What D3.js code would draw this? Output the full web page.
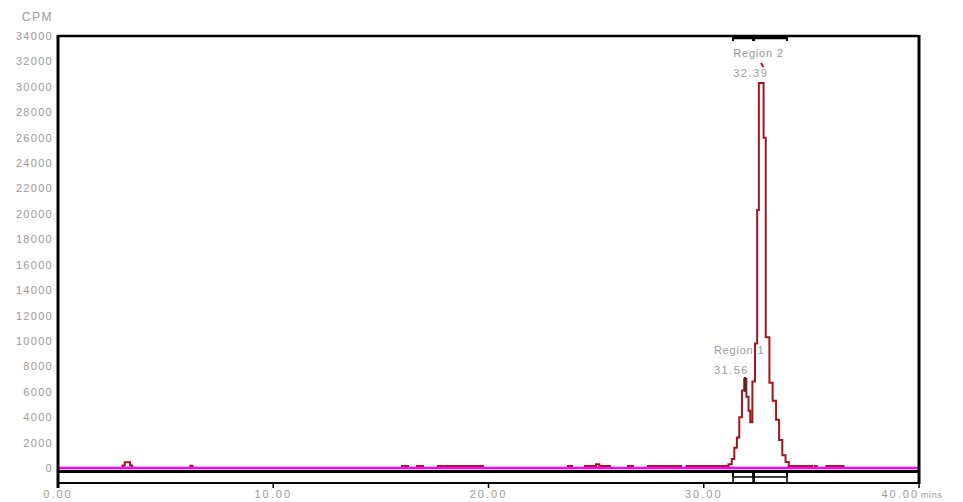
<!DOCTYPE html>
<html>
<head>
<meta charset="utf-8">
<script src="https://cdn.jsdelivr.net/npm/d3@7"></script>
<style>
  body { margin: 0; background: #fff; }
  svg text { font-family: "Liberation Sans", Arial, sans-serif; fill: #9a9a9a; }
</style>
</head>
<body>
<svg id="chart" width="963" height="502"></svg>
<script>
// chromatogram data: time (mins) and counts, drawn as a step trace
var times = [0, 3.0, 3.1, 3.35, 3.45, 6.15, 6.25,
  15.98, 16.26, 16.68, 16.96, 17.65, 17.85, 17.95, 19.74,
  23.69, 23.88, 24.48, 25.0, 25.15, 25.64, 26.48, 26.71,
  27.41, 28.95, 29.2,
  31.15, 31.3, 31.42, 31.54, 31.65, 31.78, 31.88, 31.98, 32.08, 32.16, 32.26, 32.38,
  32.48, 32.56, 32.78, 32.88, 33.05, 33.2, 33.36, 33.5, 33.65, 33.8, 33.95,
  35.03, 35.15, 35.25, 35.7, 36.5, 40]
var cpm = [0, 200, 450, 200, 0, 180, 0,
  150, 0, 150, 0, 150, 0, 150, 0,
  150, 0, 150, 300, 150, 0, 150, 0,
  150, 0, 150,
  300, 700, 1600, 2400, 4000, 6100, 7000, 5600, 4500, 3600, 6800, 9800,
  20300, 30300, 26000, 10300, 6700, 5300, 3800, 2200, 1000, 470, 150,
  0, 150, 0, 150, 0, 0]

var yTicks = [0, 2000, 4000, 6000, 8000, 10000, 12000, 14000, 16000, 18000,
  20000, 22000, 24000, 26000, 28000, 30000, 32000, 34000]
var xTicks = [0, 10, 20, 30, 40]

// regions: start, end (mins), label, peak label, label anchor (mins, cpm)
var regionNames = ["Region 1", "Region 2"]
var regionStart = [31.36, 32.34]
var regionEnd = [32.29, 33.87]
var regionPeak = ["31.56", "32.39"]
var regionLabelAt = [[31.4, 7400], [32.3, 30800]]

var svg = d3.select("#chart")
var x = d3.scaleLinear().domain([0, 40]).range([58, 919])
var y = d3.scaleLinear().domain([0, 34000]).range([468, 36])

var data = times.map((t, i) => ({ t: t, v: cpm[i] }))

// y tick labels
svg.append("g").selectAll("text")
  .data(yTicks).enter().append("text")
  .attr("x", 53)
  .attr("y", d => y(d) + 4)
  .attr("text-anchor", "end")
  .attr("font-size", 11)
  .attr("letter-spacing", 1.3)
  .text(d => d)

svg.append("text").attr("x", 53).attr("y", 21).attr("text-anchor", "end")
  .attr("font-size", 12).attr("letter-spacing", 1.5).text("CPM")

// x tick labels and ticks
svg.append("g").selectAll("text")
  .data(xTicks).enter().append("text")
  .attr("x", d => d === 40 ? x(d) : x(d))
  .attr("y", 498)
  .attr("text-anchor", d => d === 40 ? "end" : "middle")
  .attr("font-size", 11)
  .attr("letter-spacing", 2)
  .text(d => d.toFixed(2))

svg.append("g").selectAll("line")
  .data(xTicks).enter().append("line")
  .attr("x1", d => x(d)).attr("x2", d => x(d))
  .attr("y1", 483).attr("y2", 488)
  .attr("stroke", "#000").attr("stroke-width", 1.5)

svg.append("text").attr("x", 921).attr("y", 498)
  .attr("font-size", 9).attr("letter-spacing", 0.6).text("mins")

// trace
var line = d3.line().x(d => x(d.t)).y(d => y(d.v)).curve(d3.curveStepAfter)
svg.append("path")
  .datum(data)
  .attr("d", line)
  .attr("fill", "none")
  .attr("stroke", "#a3161c")
  .attr("stroke-width", 2)

// peak markers
svg.append("line")
  .attr("x1", 745).attr("x2", 745)
  .attr("y1", y(7000) - 2).attr("y2", y(6000))
  .attr("stroke", "#333").attr("stroke-width", 2)
svg.append("line")
  .attr("x1", 761).attr("x2", 763.5)
  .attr("y1", 63).attr("y2", 67)
  .attr("stroke", "#a3161c").attr("stroke-width", 2)

// zero line
svg.append("line")
  .attr("x1", x(0)).attr("x2", x(40))
  .attr("y1", y(0)).attr("y2", y(0))
  .attr("stroke", "#ff00ff").attr("stroke-width", 2.5)

// frame
var frame = svg.append("g").attr("stroke", "#000").attr("fill", "none")
frame.append("line").attr("x1", x(0)).attr("x2", x(40)).attr("y1", 36).attr("y2", 36).attr("stroke-width", 2.5)
frame.append("line").attr("x1", x(0)).attr("x2", x(0)).attr("y1", 35).attr("y2", 488).attr("stroke-width", 3)
frame.append("line").attr("x1", x(40)).attr("x2", x(40)).attr("y1", 35).attr("y2", 484).attr("stroke-width", 3)
frame.append("line").attr("x1", x(0)).attr("x2", x(40)).attr("y1", 471.5).attr("y2", 471.5).attr("stroke-width", 3)
frame.append("line").attr("x1", x(0)).attr("x2", x(40)).attr("y1", 483).attr("y2", 483).attr("stroke-width", 2)

// region bars
regionNames.forEach(function (name, i) {
  var x0 = x(regionStart[i]), x1 = x(regionEnd[i])
  frame.append("rect").attr("x", x0).attr("y", 471.5).attr("width", x1 - x0).attr("height", 5.5).attr("stroke-width", 1.5)
  frame.append("line").attr("x1", x0).attr("x2", x0).attr("y1", 471).attr("y2", 483).attr("stroke-width", 1.5)
  frame.append("line").attr("x1", x1).attr("x2", x1).attr("y1", 471).attr("y2", 483).attr("stroke-width", 1.5)
  frame.append("line").attr("x1", x0).attr("x2", x1).attr("y1", 38).attr("y2", 38).attr("stroke-width", 2.5)
  frame.append("line").attr("x1", x0).attr("x2", x0).attr("y1", 36).attr("y2", 41).attr("stroke-width", 2)
  frame.append("line").attr("x1", x1).attr("x2", x1).attr("y1", 36).attr("y2", 41).attr("stroke-width", 2)

  var lx = x(regionLabelAt[i][0]) - 20, ly = y(regionLabelAt[i][1])
  svg.append("text").attr("x", lx).attr("y", ly - 20).attr("font-size", 11).attr("letter-spacing", 0.8).text(name)
  svg.append("text").attr("x", lx).attr("y", ly).attr("font-size", 11).attr("letter-spacing", 1.5).text(regionPeak[i])
})
</script>
</body>
</html>
